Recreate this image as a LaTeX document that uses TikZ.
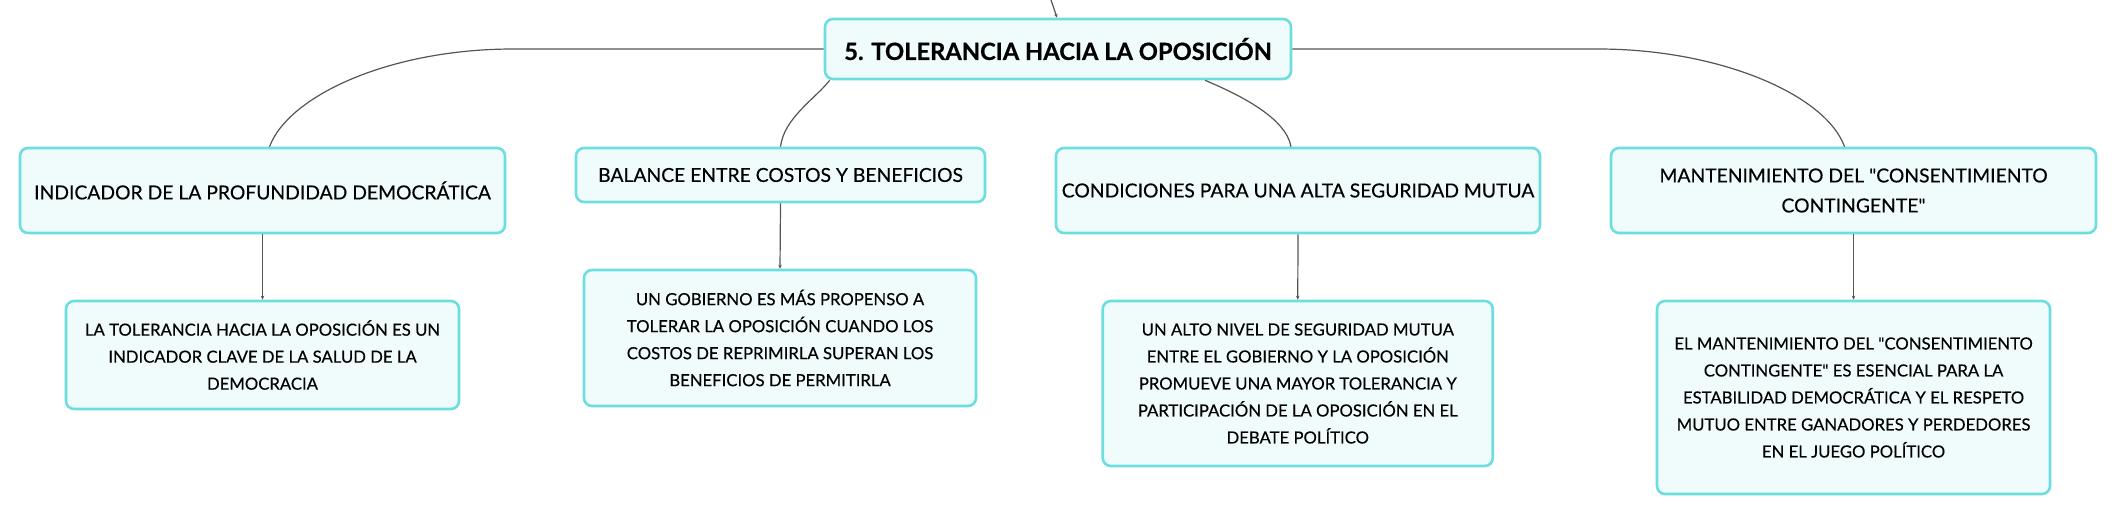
\documentclass[tikz,border=0pt]{standalone}
\usepackage{fontspec}
\setmainfont{Lato}[Ligatures=TeXOff, FakeBold=0.35, BoldFeatures={FakeBold=0.6}]
\usetikzlibrary{arrows.meta,calc}
\definecolor{bordc}{RGB}{108,222,224}
\definecolor{fillc}{RGB}{240,252,252}
\definecolor{linec}{RGB}{85,85,85}
\tikzset{
  box/.style={draw=bordc, fill=fillc, line width=2.6pt, rounded corners=8pt, inner sep=0pt, align=center, text=black},
  rootbox/.style={box, font=\fontsize{23.7}{28}\selectfont\bfseries},
  lvlone/.style={box, font=\fontsize{19.3}{30}\selectfont},
  lvltwo/.style={box, font=\fontsize{16.7}{27}\selectfont},
  conn/.style={draw=linec, line width=1.2pt},
  tip/.style={conn, -{Stealth[length=4pt,width=3.5pt]}}
}
\begin{document}
\begin{tikzpicture}[x=1pt,y=-1pt]
\useasboundingbox (0,0) rectangle (2116,514);
% root
\node[rootbox, minimum width=466pt, minimum height=60pt] (root) at (1058,49) {5. TOLERANCIA HACIA LA OPOSICIÓN};
% level 1
\node[lvlone, minimum width=485pt, minimum height=85pt] (a) at (262.5,190.5) {INDICADOR DE LA PROFUNDIDAD DEMOCRÁTICA};
\node[lvlone, minimum width=409pt, minimum height=54pt] (b) at (780.5,175) {BALANCE ENTRE COSTOS Y BENEFICIOS};
\node[lvlone, minimum width=484pt, minimum height=85pt] (c) at (1298,190.5) {CONDICIONES PARA UNA ALTA SEGURIDAD MUTUA};
\node[lvlone, minimum width=485pt, minimum height=85pt] (d) at (1853.5,190.5) {MANTENIMIENTO DEL "CONSENTIMIENTO\\CONTINGENTE"};
% level 2
\node[lvltwo, minimum width=393pt, minimum height=108pt] (a2) at (262.5,355) {LA TOLERANCIA HACIA LA OPOSICIÓN ES UN\\INDICADOR CLAVE DE LA SALUD DE LA\\DEMOCRACIA};
\node[lvltwo, minimum width=392pt, minimum height=136pt] (b2) at (780,338) {UN GOBIERNO ES MÁS PROPENSO A\\TOLERAR LA OPOSICIÓN CUANDO LOS\\COSTOS DE REPRIMIRLA SUPERAN LOS\\BENEFICIOS DE PERMITIRLA};
\node[lvltwo, minimum width=390pt, minimum height=165pt] (c2) at (1297.75,383.5) {UN ALTO NIVEL DE SEGURIDAD MUTUA\\ENTRE EL GOBIERNO Y LA OPOSICIÓN\\PROMUEVE UNA MAYOR TOLERANCIA Y\\PARTICIPACIÓN DE LA OPOSICIÓN EN EL\\DEBATE POLÍTICO};
\node[lvltwo, minimum width=393pt, minimum height=193pt] (d2) at (1853.5,397.5) {EL MANTENIMIENTO DEL "CONSENTIMIENTO\\CONTINGENTE" ES ESENCIAL PARA LA\\ESTABILIDAD DEMOCRÁTICA Y EL RESPETO\\MUTUO ENTRE GANADORES Y PERDEDORES\\EN EL JUEGO POLÍTICO};
% incoming connector from off-picture parent
\coordinate (up) at (1051,0);
\draw[tip] (up) -- ($(root.north)+(-1,0)$);
% connectors from root
\draw[conn] (root.west) -- (513,49) .. controls (391,49) and (289,95) .. ($(a.north)+(7,0)$);
\draw[conn] ($(root.south west)+(6,0)$) .. controls (815,99) and (784,118) .. (b.north);
\draw[conn] ($(root.south)+(147,0)$) .. controls (1240,95) and (1286,118) .. ($(c.north)+(-7,0)$);
\draw[conn] (root.east) -- (1598,49) .. controls (1720,49) and (1826,95) .. ($(d.north)+(-9,0)$);
% connectors to level 2
\draw[tip] (a.south) -- (a2.north);
\draw[tip] (b.south) -- (b2.north);
\draw[tip] (c.south) -- (c2.north);
\draw[tip] (d.south) -- (d2.north);
\end{tikzpicture}
\end{document}
